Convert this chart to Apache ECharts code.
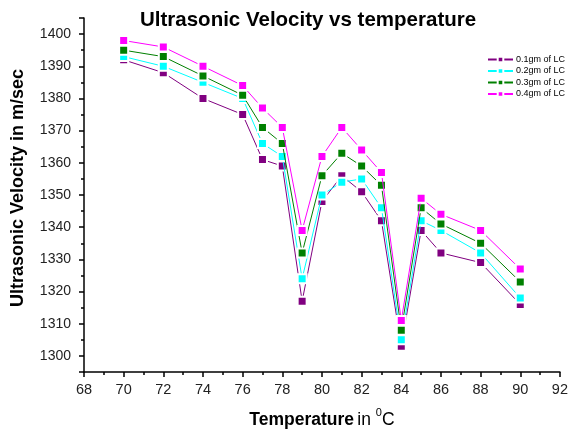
<!DOCTYPE html>
<html>
<head>
<meta charset="utf-8">
<script src="https://cdn.jsdelivr.net/npm/echarts@6/dist/echarts.min.js"></script>
<style>html,body{margin:0;padding:0;background:#fff}#c{width:571px;height:434px}</style>
</head>
<body>
<div id="c"></div>
<script>
const temps = [70, 72, 74, 76, 77, 78, 79, 80, 81, 82, 83, 84, 85, 86, 88, 90];
const lc01 = [1392, 1388, 1380, 1375, 1361, 1359, 1317, 1348, 1356, 1351, 1342, 1303, 1339, 1332, 1329, 1316];
const lc02 = [1393, 1390, 1385, 1380, 1366, 1362, 1324, 1350, 1354, 1355, 1346, 1305, 1342, 1339, 1332, 1318];
const lc03 = [1395, 1393, 1387, 1381, 1371, 1366, 1332, 1356, 1363, 1359, 1353, 1308, 1346, 1341, 1335, 1323];
const lc04 = [1398, 1396, 1390, 1384, 1377, 1371, 1339, 1362, 1371, 1364, 1357, 1311, 1349, 1344, 1339, 1327];
const seriesNames = ['0.1gm of LC', '0.2gm of LC', '0.3gm of LC', '0.4gm of LC'];
const seriesColors = ['#800080', '#00FFFF', '#008000', '#FF00FF'];

const FONT = 'Liberation Sans, Arial, sans-serif';
const allData = [lc01, lc02, lc03, lc04];

const chart = echarts.init(document.getElementById('c'), null, {renderer: 'canvas'});
const series = allData.map((vals, i) => ({
  name: seriesNames[i],
  type: 'line',
  data: temps.map((t, j) => [t, vals[j]]),
  symbol: 'rect',
  symbolSize: 9,
  showAllSymbol: true,
  lineStyle: {color: seriesColors[i], width: 1},
  itemStyle: {color: seriesColors[i], borderColor: '#fff', borderWidth: 2},
  emphasis: {disabled: true},
  animation: false,
  z: 2 + i
}));

chart.setOption({
  animation: false,
  backgroundColor: '#fff',
  title: {
    text: 'Ultrasonic Velocity vs temperature',
    left: 135, top: 5,
    textStyle: {fontFamily: FONT, fontSize: 20.5, fontWeight: 'bold', color: '#000'}
  },
  legend: {
    orient: 'vertical',
    left: 482, top: 50,
    itemWidth: 25, itemHeight: 7, itemGap: 2.5,
    textStyle: {fontFamily: FONT, fontSize: 9, color: '#000', padding: [0, 0, 0, -2]},
    data: seriesNames
  },
  graphic: [{
    type: 'text',
    x: 18, y: 188,
    rotation: Math.PI / 2,
    style: {
      text: 'Ultrasonic Velocity in m/sec',
      fontFamily: FONT, fontSize: 18, fontWeight: 'bold', fill: '#000',
      align: 'center', verticalAlign: 'middle'
    }
  }],
  grid: {left: 84, right: 8, top: 18, bottom: 59, containLabel: false},
  xAxis: {
    type: 'value', min: 68, max: 92, interval: 2,
    name: '{b|Temperature} {n|in }{s|0}{n|C}',
    nameLocation: 'middle', nameGap: 35,
    nameTextStyle: {
      rich: {
        b: {fontFamily: FONT, fontSize: 17.5, fontWeight: 'bold', color: '#000', lineHeight: 22, verticalAlign: 'bottom'},
        n: {fontFamily: FONT, fontSize: 17.5, color: '#000', lineHeight: 22, verticalAlign: 'bottom'},
        s: {fontFamily: FONT, fontSize: 11, color: '#000', lineHeight: 22, verticalAlign: 'top', padding: [0, 0, 6, 0]}
      }
    },
    axisLine: {show: true, lineStyle: {color: '#000', width: 1.5}},
    axisTick: {show: true, length: 5, lineStyle: {color: '#000', width: 1.5}},
    minorTick: {show: true, splitNumber: 2, length: 3, lineStyle: {color: '#000', width: 1.5}},
    axisLabel: {fontFamily: FONT, fontSize: 14.5, color: '#222', margin: 10},
    splitLine: {show: false}
  },
  yAxis: {
    type: 'value', min: 1295, max: 1405, splitNumber: 11,
    axisLine: {show: true, onZero: false, lineStyle: {color: '#000', width: 1.5}},
    axisTick: {show: true, length: 5, lineStyle: {color: '#000', width: 1.5}},
    minorTick: {show: true, splitNumber: 2, length: 3, lineStyle: {color: '#000', width: 1.5}},
    axisLabel: {fontFamily: FONT, fontSize: 14, color: '#222', margin: 13,
      showMinLabel: false, showMaxLabel: false,
      formatter: v => (v % 10 === 0 ? String(v) : '')},
    splitLine: {show: false}
  },
  series: series
});
</script>
</body>
</html>
